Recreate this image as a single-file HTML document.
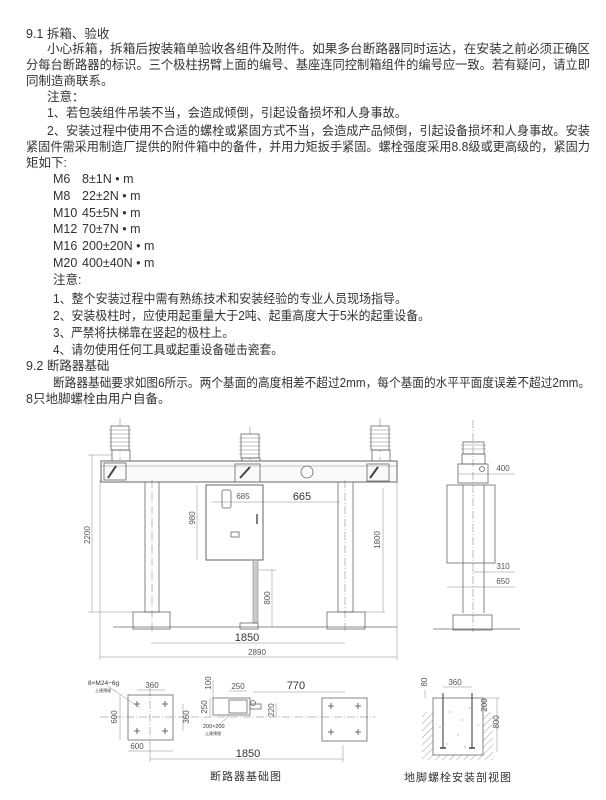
<!DOCTYPE html>
<html><head><meta charset="utf-8"><style>
html,body{margin:0;padding:0;background:#fff;}
svg{display:block;}
text{font-family:"Liberation Sans","Noto Sans CJK SC",sans-serif;fill:#333;}
.t{font-size:12.5px;}
.d{font-size:8px;fill:#555;}
.ln{stroke:#666;stroke-width:0.8;fill:none;}
.th{stroke:#888;stroke-width:0.5;fill:none;}
.cl{stroke:#777;stroke-width:0.5;fill:none;stroke-dasharray:8 2 1 2;}
</style></head><body>
<svg width="606" height="800" viewBox="0 0 606 800" xmlns="http://www.w3.org/2000/svg">
<rect width="606" height="800" fill="#fff"/>
<g class="t">
<text x="26" y="38" class="t">9.1 拆箱、验收</text>
<text x="47" y="53" class="t" textLength="543" lengthAdjust="spacingAndGlyphs">小心拆箱，拆箱后按装箱单验收各组件及附件。如果多台断路器同时运达，在安装之前必须正确区</text>
<text x="26" y="69" class="t" textLength="564" lengthAdjust="spacingAndGlyphs">分每台断路器的标识。三个极柱拐臂上面的编号、基座连同控制箱组件的编号应一致。若有疑问，请立即</text>
<text x="26" y="85" class="t">同制造商联系。</text>
<text x="47" y="101" class="t">注意：</text>
<text x="47" y="117" class="t" textLength="360" lengthAdjust="spacingAndGlyphs">1、若包装组件吊装不当，会造成倾倒，引起设备损坏和人身事故。</text>
<text x="47" y="135" class="t" textLength="543" lengthAdjust="spacingAndGlyphs">2、安装过程中使用不合适的螺栓或紧固方式不当，会造成产品倾倒，引起设备损坏和人身事故。安装</text>
<text x="26" y="151" class="t" textLength="564" lengthAdjust="spacingAndGlyphs">紧固件需采用制造厂提供的附件箱中的备件，并用力矩扳手紧固。螺栓强度采用8.8级或更高级的，紧固力</text>
<text x="26" y="167" class="t">矩如下:</text>
<text x="53" y="183" class="t">M6</text><text x="82" y="183" class="t">8±1N • m</text>
<text x="53" y="200" class="t">M8</text><text x="82" y="200" class="t">22±2N • m</text>
<text x="53" y="217" class="t">M10</text><text x="82" y="217" class="t">45±5N • m</text>
<text x="53" y="233" class="t">M12</text><text x="82" y="233" class="t">70±7N • m</text>
<text x="53" y="250" class="t">M16</text><text x="82" y="250" class="t">200±20N • m</text>
<text x="53" y="267" class="t">M20</text><text x="82" y="267" class="t">400±40N • m</text>
<text x="53" y="284" class="t">注意:</text>
<text x="53" y="303" class="t" textLength="354" lengthAdjust="spacingAndGlyphs">1、整个安装过程中需有熟练技术和安装经验的专业人员现场指导。</text>
<text x="53" y="320" class="t" textLength="377" lengthAdjust="spacingAndGlyphs">2、安装极柱时，应使用起重量大于2吨、起重高度大于5米的起重设备。</text>
<text x="53" y="337" class="t" textLength="181" lengthAdjust="spacingAndGlyphs">3、严禁将扶梯靠在竖起的极柱上。</text>
<text x="53" y="354" class="t" textLength="230" lengthAdjust="spacingAndGlyphs">4、请勿使用任何工具或起重设备碰击瓷套。</text>
<text x="26" y="370" class="t">9.2 断路器基础</text>
<text x="53" y="387" class="t" textLength="537" lengthAdjust="spacingAndGlyphs">断路器基础要求如图6所示。两个基面的高度相差不超过2mm，每个基面的水平平面度误差不超过2mm。</text>
<text x="26" y="403" class="t">8只地脚螺栓由用户自备。</text>
</g>

<!-- Main elevation -->
<g>
<!-- insulators -->
<g id="ins">
<line class="cl" x1="120" y1="418" x2="120" y2="460"/>
<rect x="111" y="426" width="18" height="24" fill="#fff" stroke="#666" stroke-width="0.8"/>
<line class="th" x1="109" y1="430" x2="131" y2="430"/><line class="th" x1="109" y1="434" x2="131" y2="434"/><line class="th" x1="109" y1="438" x2="131" y2="438"/><line class="th" x1="109" y1="442" x2="131" y2="442"/><line class="th" x1="109" y1="446" x2="131" y2="446"/>
<rect x="112" y="450" width="18" height="11" class="ln"/>
</g>
<use href="#ins" x="130" y="8"/>
<use href="#ins" x="260" y="0"/>
<rect x="101" y="461" width="296" height="21" fill="#fafafa" stroke="#555" stroke-width="0.9"/>
<line class="th" x1="101" y1="466" x2="397" y2="466"/>
<rect x="104" y="463" width="22" height="17" class="ln"/><line x1="108" y1="478" x2="116" y2="466" stroke="#444" stroke-width="2"/>
<rect x="235" y="464" width="25" height="18" class="ln"/><line x1="240" y1="478" x2="250" y2="467" stroke="#444" stroke-width="2"/>
<rect x="367" y="464" width="22" height="17" class="ln"/><line x1="370" y1="478" x2="378" y2="467" stroke="#444" stroke-width="2"/>
<circle cx="307" cy="472" r="6" class="ln"/>
<!-- columns -->
<rect x="145" y="482" width="14" height="130" class="ln"/>
<line class="cl" x1="152" y1="480" x2="152" y2="632"/>
<rect x="133" y="612" width="37" height="17" class="ln"/>
<rect x="338" y="482" width="15" height="130" class="ln"/>
<line class="cl" x1="345" y1="480" x2="345" y2="632"/>
<rect x="327" y="612" width="38" height="17" class="ln"/>
<!-- cabinet -->
<rect x="206" y="485" width="57" height="75" fill="#fff" stroke="#555" stroke-width="0.9"/>
<rect x="222" y="490" width="9" height="18" rx="2" class="ln"/>
<rect x="231" y="532" width="8" height="5" class="ln"/>
<line x1="257" y1="514" x2="257" y2="524" stroke="#555" stroke-width="1.5"/>
<rect x="253" y="560" width="5" height="63" fill="#ccc" stroke="#777" stroke-width="0.5"/>
<rect x="240" y="623" width="18" height="6" class="ln"/>
<line class="ln" x1="113" y1="627" x2="397" y2="627"/>
<!-- dims -->
<line class="th" x1="92" y1="455" x2="92" y2="612"/><line class="th" x1="88" y1="455" x2="112" y2="455"/><line class="th" x1="88" y1="612" x2="140" y2="612"/>
<text class="d" transform="translate(90,535) rotate(-90)" text-anchor="middle" font-size="10">2200</text>
<line class="th" x1="197" y1="485" x2="197" y2="560"/>
<text class="d" transform="translate(195,518) rotate(-90)" text-anchor="middle">980</text>
<line class="th" x1="272" y1="570" x2="272" y2="627"/><line class="th" x1="258" y1="570" x2="276" y2="570"/>
<text class="d" transform="translate(270,598) rotate(-90)" text-anchor="middle">800</text>
<line class="th" x1="383" y1="488" x2="383" y2="612"/><line class="th" x1="353" y1="612" x2="385" y2="612"/>
<text class="d" transform="translate(380,540) rotate(-90)" text-anchor="middle">1800</text>
<line class="th" x1="212" y1="502" x2="340" y2="502"/>
<text class="d" x="243" y="499" text-anchor="middle">685</text>
<text x="302" y="500" text-anchor="middle" font-size="11">665</text>
<line class="th" x1="151" y1="643" x2="345" y2="643"/>
<text x="247" y="641" text-anchor="middle" font-size="11">1850</text>
<line class="th" x1="100" y1="657" x2="397" y2="657"/>
<line class="th" x1="100" y1="480" x2="100" y2="660"/><line class="th" x1="397" y1="480" x2="397" y2="660"/>
<text class="d" x="257" y="655" text-anchor="middle">2890</text>
</g>

<!-- side view -->
<g>
<line class="cl" x1="473" y1="420" x2="473" y2="632"/>
<rect x="463" y="442" width="21" height="12" class="ln"/>
<line class="th" x1="461" y1="445" x2="486" y2="445"/><line class="th" x1="461" y1="449" x2="486" y2="449"/>
<rect x="462" y="454" width="23" height="10" class="ln"/>
<rect x="458" y="464" width="30" height="19" class="ln"/>
<circle cx="482" cy="469" r="2.5" class="ln"/>
<rect x="447" y="485" width="48" height="78" class="ln"/>
<line class="ln" x1="463" y1="485" x2="463" y2="613"/><line class="ln" x1="484" y1="485" x2="484" y2="613"/>
<rect x="453" y="615" width="39" height="15" class="ln"/>
<line class="ln" x1="433" y1="629" x2="520" y2="629"/>
<line class="th" x1="458" y1="474" x2="515" y2="474"/><text class="d" x="503" y="471" text-anchor="middle">400</text>
<line class="th" x1="473" y1="572" x2="515" y2="572"/><text class="d" x="503" y="569" text-anchor="middle">310</text>
<line class="th" x1="447" y1="587" x2="515" y2="587"/><text class="d" x="503" y="584" text-anchor="middle">650</text>
</g>

<!-- Foundation plan -->
<g>
<line class="cl" x1="100" y1="717" x2="375" y2="717"/>
<rect x="128" y="695" width="45" height="45" class="ln"/>
<line class="cl" x1="150" y1="688" x2="150" y2="745"/>
<g stroke="#444" stroke-width="0.8">
<path d="M134 704h6M137 701v6M162 704h6M165 701v6M134 731h6M137 728v6M162 731h6M165 728v6"/>
<path d="M328 706h6M331 703v6M355 706h6M358 703v6M328 732h6M331 729v6M355 732h6M358 729v6"/>
</g>
<line class="th" x1="108" y1="686" x2="140" y2="708"/>
<text x="88" y="685" font-size="6.5">8×M24−6g</text>
<text x="95" y="692" font-size="4" fill="#777">土建预埋</text>
<line class="th" x1="137" y1="690" x2="165" y2="690"/><text class="d" x="152" y="688" text-anchor="middle">360</text>
<line class="th" x1="120" y1="695" x2="120" y2="740"/><text class="d" transform="translate(117,717) rotate(-90)" text-anchor="middle">600</text>
<line class="th" x1="183" y1="704" x2="183" y2="731"/><text class="d" transform="translate(189,717) rotate(-90)" text-anchor="middle">360</text>
<line class="th" x1="128" y1="751" x2="173" y2="751"/><text class="d" x="137" y="749" text-anchor="middle">600</text>
<rect x="322" y="698" width="45" height="43" class="ln"/>
<!-- middle -->
<rect x="213" y="698" width="37" height="17" class="ln"/>
<rect x="229" y="700" width="18" height="13" class="ln"/>
<rect x="250" y="704" width="11" height="5" class="ln"/>
<circle cx="253" cy="703" r="2.5" class="ln"/>
<line class="th" x1="213" y1="680" x2="213" y2="698"/><text class="d" transform="translate(211,683) rotate(-90)" text-anchor="middle">100</text>
<line class="th" x1="210" y1="698" x2="210" y2="716"/><text class="d" transform="translate(207,707) rotate(-90)" text-anchor="middle">250</text>
<line class="th" x1="229" y1="691" x2="247" y2="691"/><text class="d" x="238" y="689" text-anchor="middle">250</text>
<line class="th" x1="276" y1="703" x2="276" y2="717"/><text class="d" transform="translate(274,710) rotate(-90)" text-anchor="middle">220</text>
<line class="th" x1="253" y1="692" x2="345" y2="692"/><text x="296" y="689" text-anchor="middle" font-size="11">770</text>
<line class="th" x1="230" y1="715" x2="218" y2="726"/>
<text x="203" y="728" font-size="5.5">200×200</text><text x="205" y="735" font-size="4" fill="#777">土建预埋</text>
<line class="th" x1="150" y1="759" x2="343" y2="759"/><line class="th" x1="150" y1="745" x2="150" y2="762"/><line class="th" x1="343" y1="745" x2="343" y2="762"/>
<text x="248" y="757" text-anchor="middle" font-size="11">1850</text>
<text x="246" y="780" text-anchor="middle" font-size="11" fill="#333" letter-spacing="1">断路器基础图</text>
</g>

<!-- Section -->
<g>
<defs><pattern id="h" width="5" height="5" patternUnits="userSpaceOnUse" patternTransform="rotate(45)"><line x1="0" y1="0" x2="0" y2="5" stroke="#777" stroke-width="0.7"/></pattern></defs>
<rect x="422" y="712" width="11" height="48" fill="url(#h)"/>
<rect x="483" y="712" width="10" height="48" fill="url(#h)"/>
<rect x="433" y="755" width="50" height="5" fill="url(#h)"/>
<rect x="433" y="698" width="50" height="57" class="ln"/>
<g fill="#888"><circle cx="450" cy="712" r="0.6"/><circle cx="462" cy="720" r="0.6"/><circle cx="440" cy="727" r="0.6"/><circle cx="458" cy="735" r="0.6"/><circle cx="470" cy="708" r="0.6"/><circle cx="447" cy="744" r="0.6"/><circle cx="465" cy="747" r="0.6"/><circle cx="478" cy="725" r="0.6"/></g>
<line x1="443" y1="693" x2="443" y2="748" stroke="#555" stroke-width="1.2"/>
<line x1="472" y1="693" x2="472" y2="748" stroke="#555" stroke-width="1.2"/>
<path d="M440 748h6M469 748h6" stroke="#444" stroke-width="1.5"/>
<line class="th" x1="443" y1="687" x2="472" y2="687"/><text class="d" x="455" y="685" text-anchor="middle">360</text>
<line class="th" x1="425" y1="690" x2="425" y2="698"/><text class="d" transform="translate(427,682) rotate(-90)" text-anchor="middle">80</text>
<line class="th" x1="483" y1="698" x2="500" y2="698"/>
<line class="th" x1="485" y1="698" x2="485" y2="712"/><text class="d" transform="translate(487,705) rotate(-90)" text-anchor="middle">200</text>
<line class="th" x1="497" y1="698" x2="497" y2="752"/><text class="d" transform="translate(499,722) rotate(-90)" text-anchor="middle">800</text>
<text x="458" y="781" text-anchor="middle" font-size="11" fill="#333" letter-spacing="1">地脚螺栓安装剖视图</text>
</g>
</svg>
</body></html>
